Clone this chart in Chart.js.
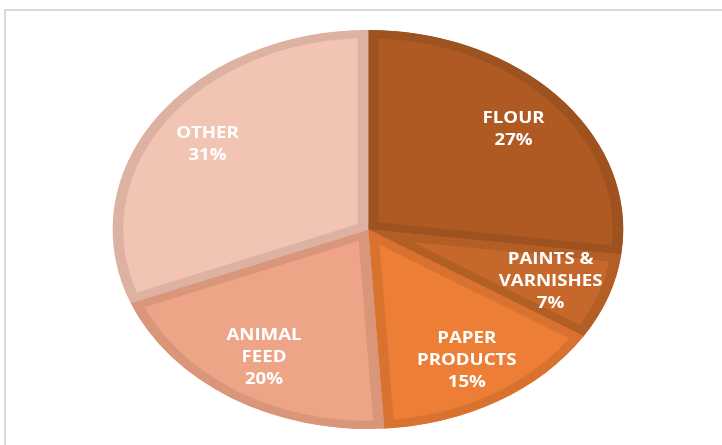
<!DOCTYPE html>
<html>
<head>
<meta charset="utf-8">
<script src="https://cdn.jsdelivr.net/npm/chart.js@4"></script>
<style>
  html, body { margin: 0; padding: 0; background: #fff; }
  #wrap { position: relative; width: 722px; height: 445px; overflow: hidden; }
  #frame { position: absolute; left: 4px; top: 9px; width: 800px; height: 500px;
           border-top: 2px solid #d9d9d9; border-left: 2px solid #d9d9d9; }
  canvas { position: absolute; left: 0; top: 0; }
</style>
</head>
<body>
<div id="wrap">
  <div id="frame"></div>
  <canvas id="myChart" width="722" height="445"></canvas>
</div>
<script>
const categories = [['FLOUR'], ['PAINTS &', 'VARNISHES'], ['PAPER', 'PRODUCTS'], ['ANIMAL', 'FEED'], ['OTHER']];
const shares = [27, 7, 15, 20, 31];
const fillColors = ['#ae5a22', '#c6682b', '#ec7f35', '#eea487', '#f2c4b3'];
const edgeColors = ['#9e521f', '#b35e25', '#d8722e', '#da967a', '#deb2a3'];

// the reference pie is a circle stretched sideways
const stretchX = 1.28;

const stretchPlugin = {
    id: 'stretch',
    beforeDatasetsDraw: (chart) => {
        const arc = chart.getDatasetMeta(0).data[0];
        const ctx = chart.ctx;
        ctx.save();
        ctx.translate(arc.x, arc.y);
        ctx.scale(stretchX, 1);
        ctx.translate(-arc.x, -arc.y);
    },
    afterDatasetsDraw: (chart) => {
        chart.ctx.restore();
    }
};

const labelPlugin = {
    id: 'sliceLabels',
    afterDraw: (chart) => {
        const ctx = chart.ctx;
        const meta = chart.getDatasetMeta(0);
        ctx.save();
        ctx.fillStyle = '#ffffff';
        ctx.font = 'bold 16.5px "Open Sans"';
        ctx.textAlign = 'center';
        ctx.textBaseline = 'middle';
        meta.data.forEach((arc, i) => {
            const mid = (arc.startAngle + arc.endAngle) / 2;
            const r = arc.outerRadius * 0.76;
            const px = arc.x + Math.cos(mid) * r * stretchX;
            const py = arc.y + Math.sin(mid) * r;
            const lines = categories[i].concat([shares[i] + '%']);
            const lineH = 22;
            const top = py - (lines.length - 1) * lineH / 2;
            lines.forEach((txt, j) => {
                ctx.save();
                ctx.translate(px, top + j * lineH);
                ctx.scale(1.13, 1);
                ctx.fillText(txt, 0, 0);
                ctx.restore();
            });
        });
        ctx.restore();
    }
};

const config = {
    type: 'pie',
    data: {
        labels: categories.map(c => c.join(' ')),
        datasets: [{
            data: shares,
            backgroundColor: fillColors,
            borderColor: edgeColors,
            borderWidth: 8,
            borderAlign: 'inner',
            offset: 0,
            hoverOffset: 0,
            clip: false
        }]
    },
    options: {
        responsive: false,
        animation: false,
        events: [],
        layout: {
            padding: { left: 118, right: 104, top: 30, bottom: 16 }
        },
        plugins: {
            legend: { display: false },
            tooltip: { enabled: false },
            title: { display: false }
        }
    },
    plugins: [stretchPlugin, labelPlugin]
};

const myChart = new Chart(document.getElementById('myChart'), config);
</script>
</body>
</html>
